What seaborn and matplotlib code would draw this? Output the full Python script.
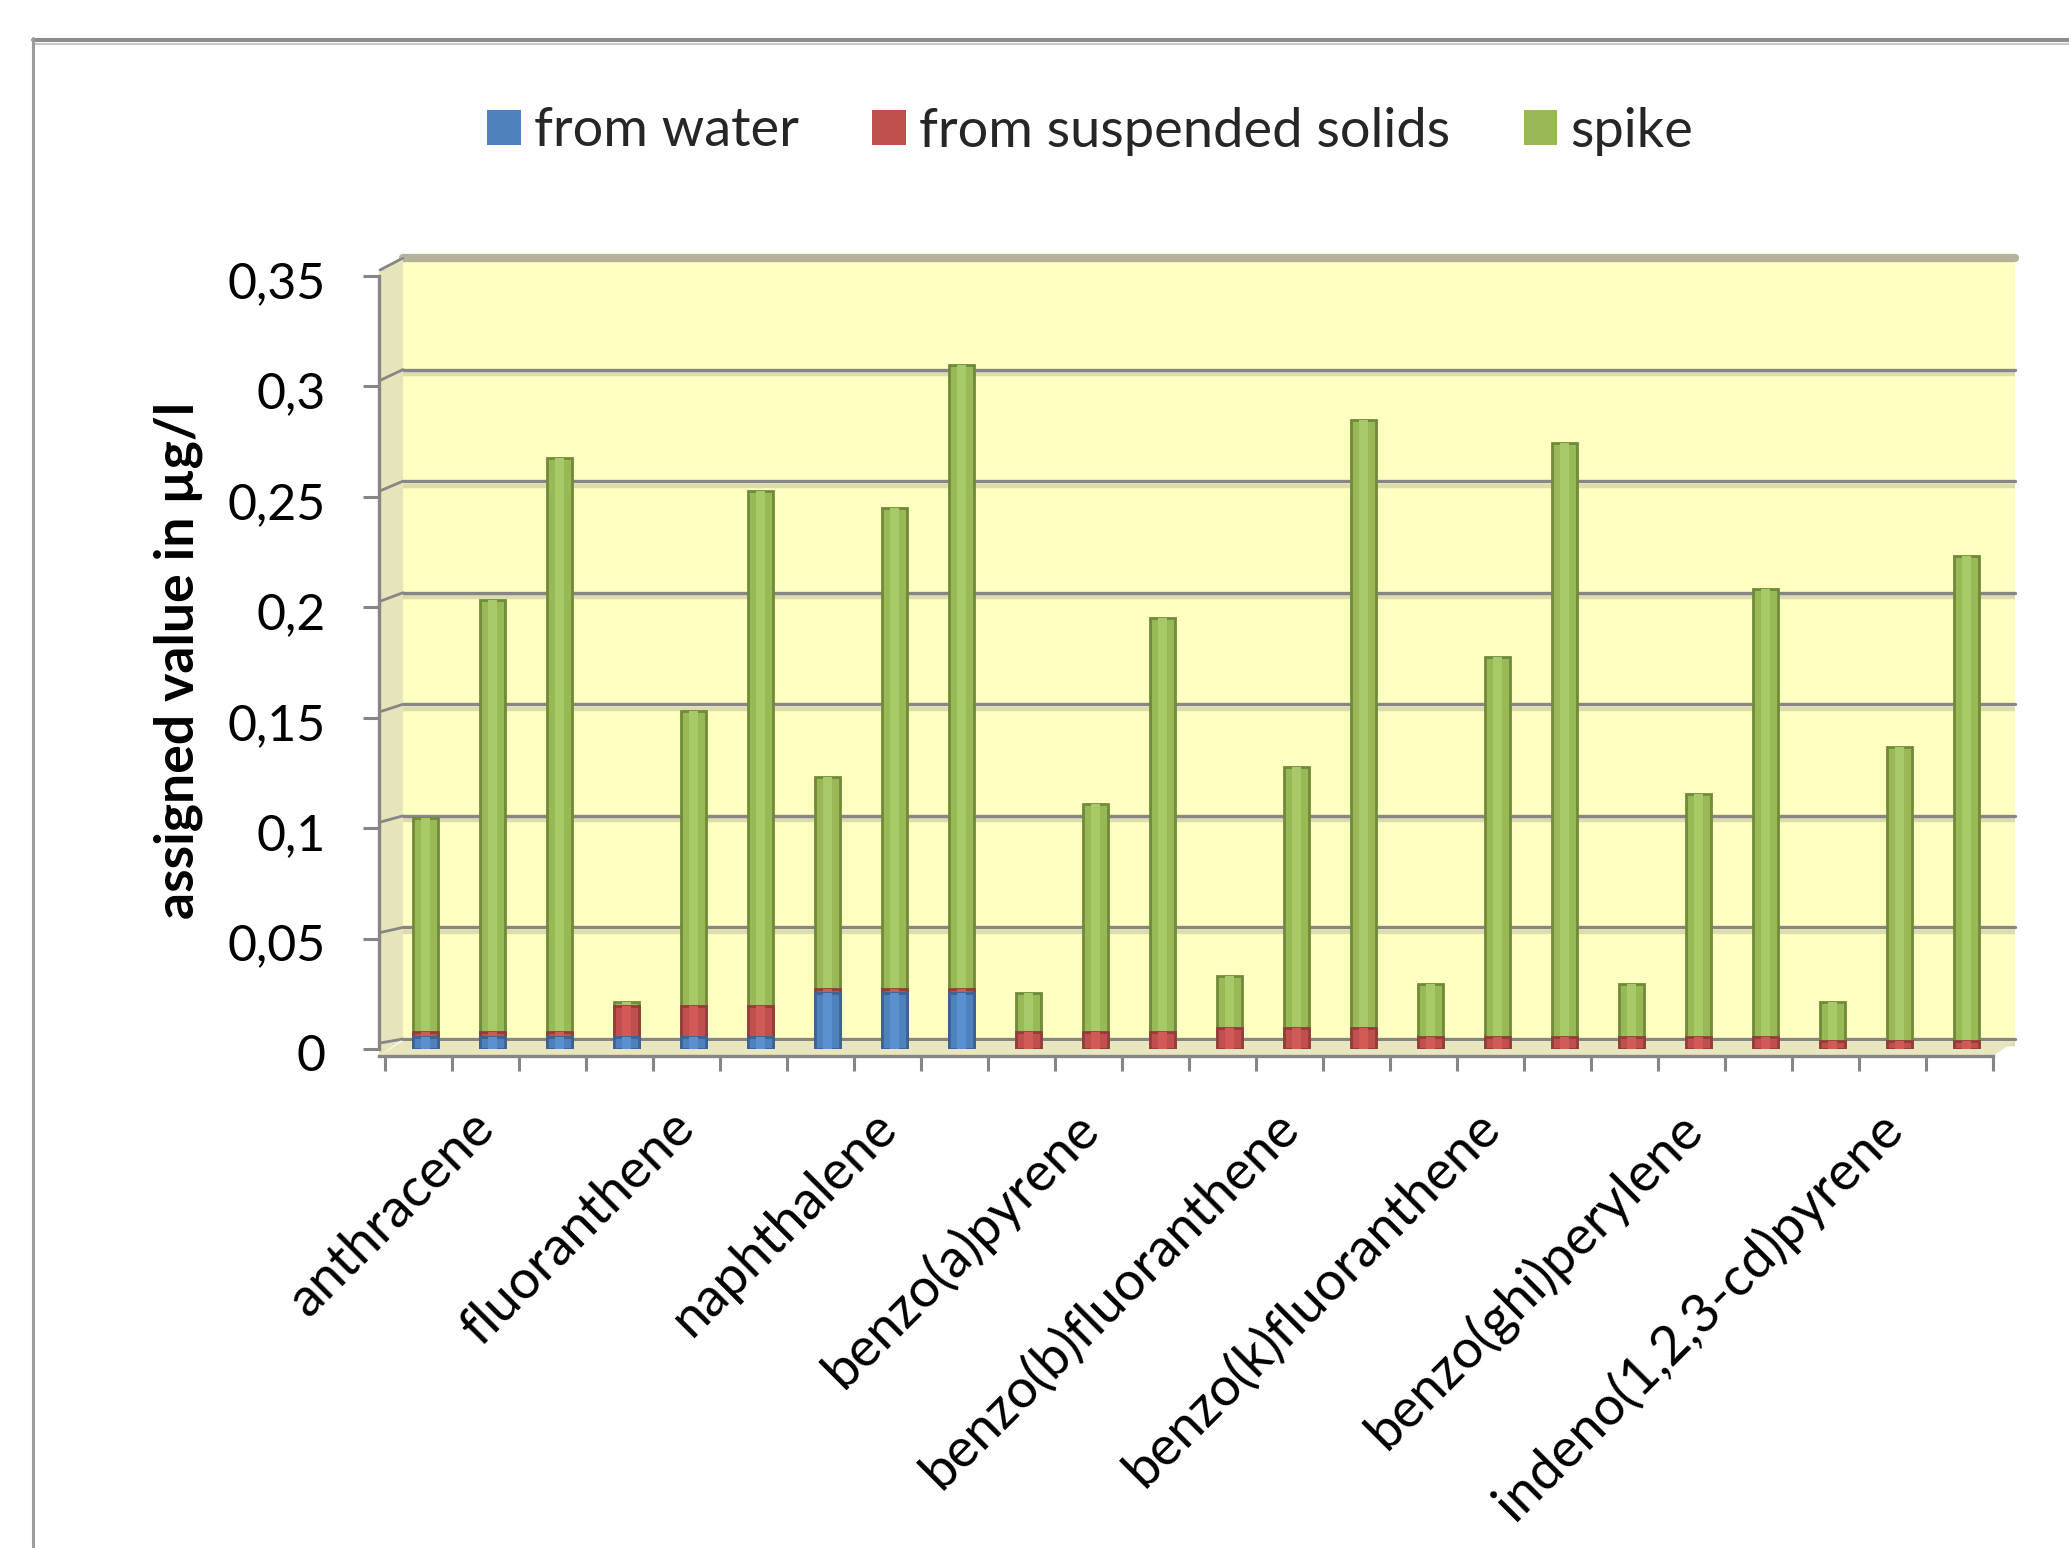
import numpy as np
import pandas as pd
import matplotlib
matplotlib.use("Agg")
import matplotlib.pyplot as plt
import matplotlib.transforms as mtransforms
from matplotlib.patches import Polygon, Patch
from matplotlib.lines import Line2D
import seaborn as sns

# ---- data ---------------------------------------------------------------
compounds = ["anthracene", "fluoranthene", "naphthalene", "benzo(a)pyrene",
             "benzo(b)fluoranthene", "benzo(k)fluoranthene",
             "benzo(ghi)perylene", "indeno(1,2,3-cd)pyrene"]
levels_per_compound = 3

from_water = [0.0055, 0.0055, 0.0055,
              0.0053, 0.0053, 0.0053,
              0.0252, 0.0252, 0.0252,
              0.0, 0.0, 0.0,
              0.0, 0.0, 0.0,
              0.0, 0.0, 0.0,
              0.0, 0.0, 0.0,
              0.0, 0.0, 0.0]
from_suspended_solids = [0.0023, 0.0023, 0.0023,
                         0.0142, 0.0142, 0.0142,
                         0.0020, 0.0020, 0.0020,
                         0.0078, 0.0078, 0.0078,
                         0.0096, 0.0096, 0.0096,
                         0.0056, 0.0056, 0.0056,
                         0.0056, 0.0056, 0.0056,
                         0.0036, 0.0036, 0.0036]
spike = [0.0968, 0.1953, 0.2598,
         0.0020, 0.1334, 0.2332,
         0.0958, 0.2177, 0.2824,
         0.0174, 0.1032, 0.1875,
         0.0234, 0.1182, 0.2751,
         0.0238, 0.1718, 0.2687,
         0.0238, 0.1097, 0.2029,
         0.0175, 0.1332, 0.2198]

series_names = ["from water", "from suspended solids", "spike"]
y_ticks = [0.0, 0.05, 0.10, 0.15, 0.20, 0.25, 0.30, 0.35]
y_tick_labels = ["0", "0,05", "0,1", "0,15", "0,2", "0,25", "0,3", "0,35"]
y_label = "assigned value in µg/l"

# ---- styling ------------------------------------------------------------
sns.set_style("white")
plt.rcParams["font.family"] = ["Lato", "DejaVu Sans"]

W, H = 2069, 1548
fig = plt.figure(figsize=(W / 100, H / 100), dpi=100)
fig.patch.set_facecolor("white")


def fx(x):
    return x / W


def fy(y):
    return 1 - y / H


blue, blue_edge, blue_hi = "#4F81BD", "#3A6496", "#5A8FD0"
red, red_edge, red_hi = "#C0504D", "#943C3A", "#D25A56"
green, green_edge, green_hi = "#98B955", "#6F8A38", "#A8C968"
grid_gray = "#868686"

# back wall of the pseudo-3D plot area
ax_bg = fig.add_axes([fx(403), fy(1039), fx(2015) - fx(403), fy(258) - fy(1039)], zorder=0)
ax_bg.set_facecolor("#FFFFC2")
ax_bg.set_xlim(0, 1)
ax_bg.set_ylim(0, 0.35)
ax_bg.set_xticks([])
ax_bg.set_yticks([])
for s in ax_bg.spines.values():
    s.set_visible(False)
shadow = mtransforms.offset_copy(ax_bg.transData, fig=fig, y=-4.5, units="dots")
for v in y_ticks[:-1]:
    ax_bg.plot([0, 1], [v, v], color="#DEDBAE", lw=3.2, transform=shadow,
               solid_capstyle="butt", clip_on=False)
    ax_bg.axhline(v, color=grid_gray, lw=2.4, clip_on=False)
ax_bg.axhline(0.35, color="#B5B29B", lw=6, clip_on=False)

# left wall and floor
left_wall = Polygon([(fx(379), fy(272)), (fx(403), fy(256)), (fx(403), fy(1039)),
                     (fx(379), fy(1056))], closed=True, transform=fig.transFigure,
                    facecolor="#E6E4BA", edgecolor="none", zorder=1)
floor = Polygon([(fx(403), fy(1041)), (fx(2015), fy(1041)), (fx(1993), fy(1056)),
                 (fx(379), fy(1056))], closed=True, transform=fig.transFigure,
                facecolor="#E8E6BE", edgecolor="none", zorder=1)
fig.patches.extend([left_wall, floor])
# slanted grid connectors across the left wall
for v in y_ticks:
    y_front = 1049 - v * (1049 - 276) / 0.35
    y_back = 1039 - v * (1039 - 258) / 0.35
    fig.lines.append(Line2D([fx(380), fx(403)], [fy(y_front - 6), fy(y_back)],
                            transform=fig.transFigure, color=grid_gray, lw=2.0, zorder=1.5))

# ---- bars (front axes) --------------------------------------------------
ax = fig.add_axes([fx(379), fy(1049), fx(1993) - fx(379), fy(276) - fy(1049)], zorder=2)
ax.patch.set_alpha(0)

n_bars = len(compounds) * levels_per_compound
bar_ids = [f"{c} {k + 1}" for c in compounds for k in range(levels_per_compound)]
df = pd.DataFrame({
    "bar": bar_ids,
    "water": from_water,
    "solids": from_suspended_solids,
    "spike": spike,
})
df["lower"] = df["water"] + df["solids"]
df["total"] = df["lower"] + df["spike"]

bar_kw = dict(x="bar", order=bar_ids, saturation=1, errorbar=None, ax=ax)
layers = [
    (df, "total", green, green_edge, green_hi),
    (df[df["lower"] > 0], "lower", red, red_edge, red_hi),
    (df[df["water"] > 0], "water", blue, blue_edge, blue_hi),
]
for data, col, face, edge, hi in layers:
    # body with darker rim, then a lighter core for the cylinder-like shading
    sns.barplot(data=data, y=col, color=face, edgecolor=edge, linewidth=2.0,
                width=0.38, **bar_kw)
    sns.barplot(data=data, y=col, color=hi, linewidth=0, width=0.13, **bar_kw)

ax.set_xlim(-0.697, 23.393)
ax.set_ylim(0, 0.35)
ax.set_xlabel("")
ax.set_ylabel("")

# axis lines and ticks
for side in ("top", "right"):
    ax.spines[side].set_visible(False)
for side in ("left", "bottom"):
    ax.spines[side].set_color(grid_gray)
    ax.spines[side].set_linewidth(2.4)
ax.spines["bottom"].set_position(("outward", 5))

ax.set_yticks(y_ticks, labels=y_tick_labels)
ax.tick_params(axis="y", length=11.5, width=2.2, color=grid_gray, pad=27,
               labelsize=36, labelcolor="black", left=True)
nudge_down = mtransforms.ScaledTranslation(0, -0.035, fig.dpi_scale_trans)
for lab in ax.get_yticklabels():
    lab.set_transform(lab.get_transform() + nudge_down)

# category labels sit under the middle bar of each group
group_mid = [g * levels_per_compound + 1 - 0.36 for g in range(len(compounds))]
ax.set_xticks(group_mid)
ax.set_xticklabels(compounds, rotation=45, ha="right", rotation_mode="anchor")
ax.set_xticks([k - 0.607 for k in range(n_bars + 1)], minor=True)
ax.tick_params(axis="x", which="major", length=0, pad=33, labelsize=39, labelcolor="black")
ax.tick_params(axis="x", which="minor", length=11, width=2.2, color=grid_gray, bottom=True)
ax.grid(False)

fig.text(fx(178), fy(660), y_label, rotation=90, ha="center", va="center",
         fontsize=38.5, fontweight="bold", color="black")

# legend across the top
handles = [Patch(facecolor=c, edgecolor="none") for c in (blue, red, green)]
fig.legend(handles, series_names, loc="center left",
           bbox_to_anchor=(fx(487), fy(131)), ncol=3, frameon=False, fontsize=39,
           handlelength=0.62, handleheight=0.62, handletextpad=0.24,
           columnspacing=1.36, borderpad=0, borderaxespad=0)

# chart frame
fig.lines.append(Line2D([fx(33), 1], [fy(39.5), fy(39.5)], transform=fig.transFigure,
                        color="#8C8C8C", lw=2.9))
fig.lines.append(Line2D([fx(33), 1], [fy(43.5), fy(43.5)], transform=fig.transFigure,
                        color="#C8C8C8", lw=1.5))
fig.lines.append(Line2D([fx(33), fx(33)], [fy(38), 0], transform=fig.transFigure,
                        color="#9C9C9C", lw=2.2))

fig.savefig("out.png", dpi=100, facecolor="white")
